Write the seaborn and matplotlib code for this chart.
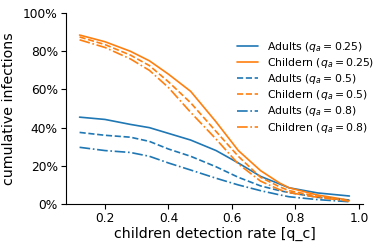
import numpy as np
import pandas as pd
import matplotlib
matplotlib.use("Agg")
import matplotlib.pyplot as plt
import seaborn as sns
from matplotlib.ticker import PercentFormatter

# detection rate of children (x axis)
q_c = [0.12, 0.20, 0.28, 0.34, 0.40, 0.47, 0.55, 0.62, 0.69, 0.75, 0.78, 0.87, 0.97]

# cumulative infections (fraction)
adults_025 = [0.455, 0.443, 0.417, 0.40, 0.37, 0.335, 0.28, 0.215, 0.145, 0.105, 0.085, 0.058, 0.042]
children_025 = [0.885, 0.85, 0.80, 0.75, 0.68, 0.59, 0.43, 0.28, 0.175, 0.11, 0.085, 0.047, 0.02]
adults_05 = [0.375, 0.36, 0.35, 0.328, 0.288, 0.25, 0.195, 0.14, 0.095, 0.07, 0.06, 0.035, 0.02]
children_05 = [0.875, 0.835, 0.78, 0.725, 0.64, 0.53, 0.38, 0.25, 0.14, 0.09, 0.07, 0.04, 0.018]
adults_08 = [0.297, 0.28, 0.27, 0.25, 0.215, 0.178, 0.135, 0.10, 0.07, 0.048, 0.038, 0.023, 0.012]
children_08 = [0.86, 0.82, 0.76, 0.70, 0.61, 0.48, 0.34, 0.21, 0.12, 0.075, 0.06, 0.035, 0.015]

series = [
    ("Adults ($q_a = 0.25$)", adults_025, "#1f77b4", "-"),
    ("Childern ($q_a = 0.25$)", children_025, "#ff7f0e", "-"),
    ("Adults ($q_a = 0.5$)", adults_05, "#1f77b4", "--"),
    ("Childern ($q_a = 0.5$)", children_05, "#ff7f0e", "--"),
    ("Adults ($q_a = 0.8$)", adults_08, "#1f77b4", "-."),
    ("Children ($q_a = 0.8$)", children_08, "#ff7f0e", "-."),
]

sns.set_style("ticks", {"axes.edgecolor": "black", "text.color": "black",
                        "xtick.color": "black", "ytick.color": "black",
                        "axes.labelcolor": "black"})
plt.rcParams['font.family'] = ['DejaVu Sans']

fig = plt.figure(figsize=(3.82, 2.47), dpi=100)
ax = fig.add_axes([0.173, 0.174, 0.777, 0.773])

for label, vals, color, ls in series:
    df = pd.DataFrame({"q_c": q_c, "inf": vals})
    sns.lineplot(data=df, x="q_c", y="inf", ax=ax, color=color,
                 linestyle=ls, linewidth=1.2, label=label)

ax.set_ylim(0, 1)
ax.set_yticks([0, 0.2, 0.4, 0.6, 0.8, 1.0])
ax.yaxis.set_major_formatter(PercentFormatter(xmax=1, decimals=0))
ax.set_xticks([0.2, 0.4, 0.6, 0.8, 1.0])
ax.tick_params(labelsize=8.8, length=3.5, width=0.8, pad=2.5)
ax.set_xlabel("children detection rate [q_c]", fontsize=10.2, labelpad=1)
ax.set_ylabel("cumulative infections", fontsize=10.2, labelpad=5)
sns.despine(ax=ax)

ax.legend(frameon=False, fontsize=7.8, loc="upper left",
          bbox_to_anchor=(0.6, 0.87), bbox_transform=fig.transFigure,
          handlelength=2.0, handletextpad=0.8, labelspacing=0.2,
          borderpad=0.2)

fig.savefig("out.png", dpi=100)
